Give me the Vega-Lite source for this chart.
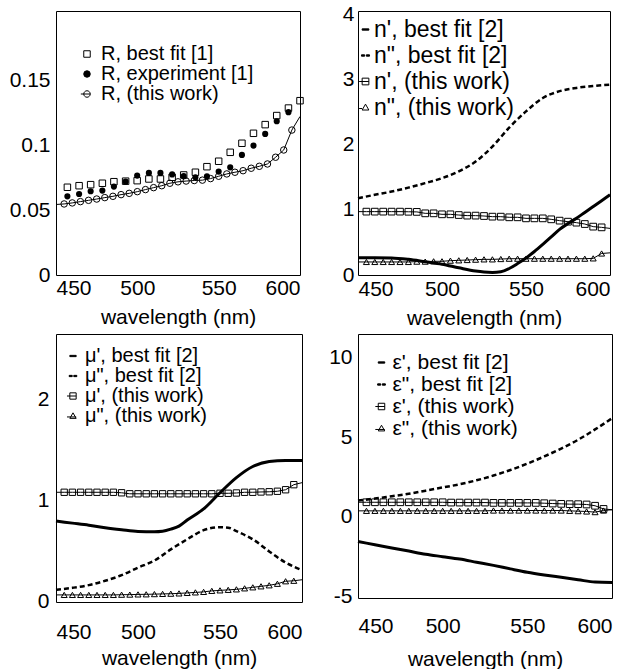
{
  "$schema": "https://vega.github.io/schema/vega-lite/v6.json",
  "padding": {"left": 8, "top": 2, "right": 0, "bottom": 0},
  "background": "white",
  "config": {
    "font": "Liberation Sans",
    "view": {"stroke": "black", "strokeWidth": 1},
    "axis": {"labelFont": "Liberation Sans", "titleFont": "Liberation Sans", "labelFontSize": 21, "titleFontSize": 21, "titleFontWeight": "normal", "labelColor": "black", "titleColor": "black", "grid": false, "ticks": false, "tickSize": 0, "domain": false, "labelExpr": "datum.value + ''"},
    "legend": {"labelFont": "Liberation Sans", "labelColor": "black", "symbolOpacity": 1, "symbolStrokeColor": "black", "symbolStrokeWidth": 1, "labelLimit": 400, "padding": 0}
  },
  "datasets": {
    "a_fit": [
      {"wl": 457, "R": 0.0678}, {"wl": 464.2, "R": 0.069}, {"wl": 471.3, "R": 0.0698}, {"wl": 478.5, "R": 0.0709},
      {"wl": 485.6, "R": 0.0721}, {"wl": 492.8, "R": 0.0725}, {"wl": 499.9, "R": 0.0729}, {"wl": 507.1, "R": 0.0742},
      {"wl": 514.2, "R": 0.0742}, {"wl": 521.4, "R": 0.0755}, {"wl": 528.5, "R": 0.0773}, {"wl": 535.7, "R": 0.0794},
      {"wl": 542.8, "R": 0.0837}, {"wl": 550, "R": 0.0879}, {"wl": 557.1, "R": 0.0948}, {"wl": 564.3, "R": 0.1018},
      {"wl": 571.4, "R": 0.1095}, {"wl": 578.6, "R": 0.1162}, {"wl": 585.7, "R": 0.1232}, {"wl": 592.9, "R": 0.129},
      {"wl": 600, "R": 0.1347}
    ],
    "a_exp": [
      {"wl": 457, "R": 0.0608}, {"wl": 464.2, "R": 0.0626}, {"wl": 471.3, "R": 0.0647}, {"wl": 478.5, "R": 0.0652},
      {"wl": 485.6, "R": 0.0683}, {"wl": 492.8, "R": 0.0721}, {"wl": 499.9, "R": 0.0768}, {"wl": 507.1, "R": 0.0789},
      {"wl": 514.2, "R": 0.0789}, {"wl": 521.4, "R": 0.0777}, {"wl": 528.5, "R": 0.0764}, {"wl": 535.7, "R": 0.0755},
      {"wl": 542.8, "R": 0.0763}, {"wl": 550, "R": 0.0799}, {"wl": 557.1, "R": 0.0832}, {"wl": 564.3, "R": 0.0928},
      {"wl": 571.4, "R": 0.1}, {"wl": 578.6, "R": 0.109}, {"wl": 585.7, "R": 0.1188}, {"wl": 592.9, "R": 0.1258}
    ],
    "a_tw": [
      {"wl": 450, "R": 0.0545}, {"wl": 455, "R": 0.0549}, {"wl": 460, "R": 0.0557}, {"wl": 465, "R": 0.0567},
      {"wl": 470, "R": 0.0577}, {"wl": 475, "R": 0.0587}, {"wl": 480, "R": 0.0598}, {"wl": 485, "R": 0.0608},
      {"wl": 490, "R": 0.0621}, {"wl": 495, "R": 0.0631}, {"wl": 500, "R": 0.0644}, {"wl": 505, "R": 0.066},
      {"wl": 510, "R": 0.0675}, {"wl": 515, "R": 0.069}, {"wl": 520, "R": 0.0709}, {"wl": 525, "R": 0.072},
      {"wl": 530, "R": 0.0726}, {"wl": 535, "R": 0.073}, {"wl": 540, "R": 0.0733}, {"wl": 545, "R": 0.0745},
      {"wl": 550, "R": 0.0763}, {"wl": 555, "R": 0.0781}, {"wl": 560, "R": 0.0794}, {"wl": 565, "R": 0.0806},
      {"wl": 570, "R": 0.0825}, {"wl": 575, "R": 0.084}, {"wl": 580, "R": 0.0858}, {"wl": 585, "R": 0.091},
      {"wl": 590, "R": 0.0966}, {"wl": 595, "R": 0.112}, {"wl": 600, "R": 0.1225}
    ],
    "a_leg": [{"s": "R, best fit [1]"}, {"s": "R, experiment [1]"}, {"s": "R, (this work)"}],
    "b_fit1": [
      {"wl": 450, "v": 0.265}, {"wl": 460, "v": 0.265}, {"wl": 470, "v": 0.262}, {"wl": 480, "v": 0.24},
      {"wl": 490, "v": 0.203}, {"wl": 500, "v": 0.165}, {"wl": 510, "v": 0.11}, {"wl": 520, "v": 0.06},
      {"wl": 525, "v": 0.045}, {"wl": 530, "v": 0.04}, {"wl": 535, "v": 0.05}, {"wl": 540, "v": 0.1},
      {"wl": 545, "v": 0.175}, {"wl": 550, "v": 0.26}, {"wl": 555, "v": 0.36}, {"wl": 560, "v": 0.47},
      {"wl": 565, "v": 0.585}, {"wl": 570, "v": 0.7}, {"wl": 575, "v": 0.79}, {"wl": 580, "v": 0.87},
      {"wl": 585, "v": 0.96}, {"wl": 590, "v": 1.05}, {"wl": 595, "v": 1.14}, {"wl": 600, "v": 1.23}
    ],
    "b_fit2": [
      {"wl": 450, "v": 1.177}, {"wl": 460, "v": 1.23}, {"wl": 470, "v": 1.28}, {"wl": 480, "v": 1.34},
      {"wl": 490, "v": 1.41}, {"wl": 500, "v": 1.485}, {"wl": 510, "v": 1.59}, {"wl": 520, "v": 1.74},
      {"wl": 530, "v": 1.97}, {"wl": 540, "v": 2.26}, {"wl": 550, "v": 2.51}, {"wl": 560, "v": 2.715},
      {"wl": 570, "v": 2.82}, {"wl": 580, "v": 2.87}, {"wl": 590, "v": 2.9}, {"wl": 600, "v": 2.92}
    ],
    "b_tw1": [
      {"wl": 450, "v": 0.972}, {"wl": 455, "v": 0.972}, {"wl": 460, "v": 0.972}, {"wl": 465, "v": 0.972},
      {"wl": 470, "v": 0.972}, {"wl": 475, "v": 0.972}, {"wl": 480, "v": 0.97}, {"wl": 485, "v": 0.968},
      {"wl": 490, "v": 0.946}, {"wl": 495, "v": 0.946}, {"wl": 500, "v": 0.931}, {"wl": 505, "v": 0.931},
      {"wl": 510, "v": 0.92}, {"wl": 515, "v": 0.911}, {"wl": 520, "v": 0.911}, {"wl": 525, "v": 0.905},
      {"wl": 530, "v": 0.895}, {"wl": 535, "v": 0.895}, {"wl": 540, "v": 0.885}, {"wl": 545, "v": 0.885},
      {"wl": 550, "v": 0.869}, {"wl": 555, "v": 0.869}, {"wl": 560, "v": 0.869}, {"wl": 565, "v": 0.854},
      {"wl": 570, "v": 0.834}, {"wl": 575, "v": 0.818}, {"wl": 580, "v": 0.803}, {"wl": 585, "v": 0.782},
      {"wl": 590, "v": 0.742}, {"wl": 595, "v": 0.731}, {"wl": 600, "v": 0.715}
    ],
    "b_tw2": [
      {"wl": 450, "v": 0.2}, {"wl": 455, "v": 0.2}, {"wl": 460, "v": 0.2}, {"wl": 465, "v": 0.2},
      {"wl": 470, "v": 0.2}, {"wl": 475, "v": 0.2}, {"wl": 480, "v": 0.2}, {"wl": 485, "v": 0.205},
      {"wl": 490, "v": 0.205}, {"wl": 495, "v": 0.21}, {"wl": 500, "v": 0.21}, {"wl": 505, "v": 0.22},
      {"wl": 510, "v": 0.225}, {"wl": 515, "v": 0.23}, {"wl": 520, "v": 0.235}, {"wl": 525, "v": 0.24},
      {"wl": 530, "v": 0.24}, {"wl": 535, "v": 0.245}, {"wl": 540, "v": 0.25}, {"wl": 545, "v": 0.25},
      {"wl": 550, "v": 0.25}, {"wl": 555, "v": 0.25}, {"wl": 560, "v": 0.25}, {"wl": 565, "v": 0.25},
      {"wl": 570, "v": 0.25}, {"wl": 575, "v": 0.25}, {"wl": 580, "v": 0.25}, {"wl": 585, "v": 0.25},
      {"wl": 590, "v": 0.255}, {"wl": 595, "v": 0.33}, {"wl": 600, "v": 0.34}
    ],
    "b_leg": [{"s": "n', best fit [2]"}, {"s": "n\", best fit [2]"}, {"s": "n', (this work)"}, {"s": "n\", (this work)"}],
    "c_fit1": [
      {"wl": 450, "v": 0.73}, {"wl": 460, "v": 0.71}, {"wl": 470, "v": 0.69}, {"wl": 480, "v": 0.665},
      {"wl": 490, "v": 0.645}, {"wl": 500, "v": 0.628}, {"wl": 510, "v": 0.625}, {"wl": 515, "v": 0.63},
      {"wl": 520, "v": 0.65}, {"wl": 525, "v": 0.68}, {"wl": 530, "v": 0.74}, {"wl": 540, "v": 0.85},
      {"wl": 550, "v": 1.01}, {"wl": 560, "v": 1.16}, {"wl": 570, "v": 1.27}, {"wl": 580, "v": 1.32},
      {"wl": 590, "v": 1.33}, {"wl": 600, "v": 1.33}
    ],
    "c_fit2": [
      {"wl": 450, "v": 0.05}, {"wl": 460, "v": 0.07}, {"wl": 470, "v": 0.097}, {"wl": 480, "v": 0.14},
      {"wl": 490, "v": 0.195}, {"wl": 500, "v": 0.27}, {"wl": 510, "v": 0.34}, {"wl": 520, "v": 0.45},
      {"wl": 530, "v": 0.55}, {"wl": 540, "v": 0.64}, {"wl": 550, "v": 0.67}, {"wl": 555, "v": 0.665},
      {"wl": 560, "v": 0.63}, {"wl": 570, "v": 0.55}, {"wl": 580, "v": 0.43}, {"wl": 590, "v": 0.32},
      {"wl": 600, "v": 0.245}
    ],
    "c_tw1": [
      {"wl": 450, "v": 1.015}, {"wl": 455, "v": 1.015}, {"wl": 460, "v": 1.015}, {"wl": 465, "v": 1.015},
      {"wl": 470, "v": 1.015}, {"wl": 475, "v": 1.015}, {"wl": 480, "v": 1.015}, {"wl": 485, "v": 1.015},
      {"wl": 490, "v": 1.01}, {"wl": 495, "v": 1.0}, {"wl": 500, "v": 1.0}, {"wl": 505, "v": 1.0},
      {"wl": 510, "v": 1.0}, {"wl": 515, "v": 1.0}, {"wl": 520, "v": 1.0}, {"wl": 525, "v": 1.0},
      {"wl": 530, "v": 1.0}, {"wl": 535, "v": 1.0}, {"wl": 540, "v": 1.0}, {"wl": 545, "v": 1.0},
      {"wl": 550, "v": 1.005}, {"wl": 555, "v": 1.005}, {"wl": 560, "v": 1.008}, {"wl": 565, "v": 1.015},
      {"wl": 570, "v": 1.015}, {"wl": 575, "v": 1.018}, {"wl": 580, "v": 1.02}, {"wl": 585, "v": 1.025},
      {"wl": 590, "v": 1.04}, {"wl": 595, "v": 1.09}, {"wl": 600, "v": 1.11}
    ],
    "c_tw2": [
      {"wl": 450, "v": 0.0}, {"wl": 455, "v": 0.0}, {"wl": 460, "v": 0.0}, {"wl": 465, "v": 0.0},
      {"wl": 470, "v": 0.0}, {"wl": 475, "v": 0.0}, {"wl": 480, "v": 0.0}, {"wl": 485, "v": 0.0},
      {"wl": 490, "v": 0.002}, {"wl": 495, "v": 0.003}, {"wl": 500, "v": 0.005}, {"wl": 505, "v": 0.006},
      {"wl": 510, "v": 0.008}, {"wl": 515, "v": 0.01}, {"wl": 520, "v": 0.012}, {"wl": 525, "v": 0.015},
      {"wl": 530, "v": 0.02}, {"wl": 535, "v": 0.025}, {"wl": 540, "v": 0.03}, {"wl": 545, "v": 0.04},
      {"wl": 550, "v": 0.045}, {"wl": 555, "v": 0.05}, {"wl": 560, "v": 0.055}, {"wl": 565, "v": 0.065},
      {"wl": 570, "v": 0.075}, {"wl": 575, "v": 0.085}, {"wl": 580, "v": 0.095}, {"wl": 585, "v": 0.11},
      {"wl": 590, "v": 0.135}, {"wl": 595, "v": 0.14}, {"wl": 600, "v": 0.15}
    ],
    "c_leg": [{"s": "μ', best fit [2]"}, {"s": "μ\", best fit [2]"}, {"s": "μ', (this work)"}, {"s": "μ\", (this work)"}],
    "d_fit1": [
      {"wl": 450, "v": -1.55}, {"wl": 460, "v": -1.75}, {"wl": 470, "v": -1.95}, {"wl": 480, "v": -2.15},
      {"wl": 490, "v": -2.35}, {"wl": 500, "v": -2.5}, {"wl": 510, "v": -2.65}, {"wl": 520, "v": -2.85},
      {"wl": 530, "v": -3.05}, {"wl": 540, "v": -3.27}, {"wl": 550, "v": -3.48}, {"wl": 560, "v": -3.65},
      {"wl": 570, "v": -3.8}, {"wl": 580, "v": -3.95}, {"wl": 590, "v": -4.1}, {"wl": 600, "v": -4.12}
    ],
    "d_fit2": [
      {"wl": 450, "v": 1.03}, {"wl": 460, "v": 1.15}, {"wl": 470, "v": 1.3}, {"wl": 480, "v": 1.45},
      {"wl": 490, "v": 1.65}, {"wl": 500, "v": 1.85}, {"wl": 510, "v": 2.05}, {"wl": 520, "v": 2.3},
      {"wl": 530, "v": 2.6}, {"wl": 540, "v": 2.95}, {"wl": 550, "v": 3.35}, {"wl": 560, "v": 3.8},
      {"wl": 570, "v": 4.3}, {"wl": 580, "v": 4.85}, {"wl": 590, "v": 5.5}, {"wl": 600, "v": 6.2}
    ],
    "d_tw1": [
      {"wl": 450, "v": 0.92}, {"wl": 455, "v": 0.92}, {"wl": 460, "v": 0.92}, {"wl": 465, "v": 0.92},
      {"wl": 470, "v": 0.92}, {"wl": 475, "v": 0.92}, {"wl": 480, "v": 0.92}, {"wl": 485, "v": 0.92},
      {"wl": 490, "v": 0.92}, {"wl": 495, "v": 0.92}, {"wl": 500, "v": 0.92}, {"wl": 505, "v": 0.9},
      {"wl": 510, "v": 0.9}, {"wl": 515, "v": 0.9}, {"wl": 520, "v": 0.9}, {"wl": 525, "v": 0.9},
      {"wl": 530, "v": 0.88}, {"wl": 535, "v": 0.88}, {"wl": 540, "v": 0.88}, {"wl": 545, "v": 0.88},
      {"wl": 550, "v": 0.88}, {"wl": 555, "v": 0.88}, {"wl": 560, "v": 0.86}, {"wl": 565, "v": 0.84},
      {"wl": 570, "v": 0.82}, {"wl": 575, "v": 0.8}, {"wl": 580, "v": 0.8}, {"wl": 585, "v": 0.78},
      {"wl": 590, "v": 0.7}, {"wl": 595, "v": 0.5}, {"wl": 600, "v": 0.45}
    ],
    "d_tw2": [
      {"wl": 450, "v": 0.38}, {"wl": 455, "v": 0.38}, {"wl": 460, "v": 0.38}, {"wl": 465, "v": 0.38},
      {"wl": 470, "v": 0.38}, {"wl": 475, "v": 0.38}, {"wl": 480, "v": 0.38}, {"wl": 485, "v": 0.38},
      {"wl": 490, "v": 0.38}, {"wl": 495, "v": 0.38}, {"wl": 500, "v": 0.38}, {"wl": 505, "v": 0.38},
      {"wl": 510, "v": 0.38}, {"wl": 515, "v": 0.38}, {"wl": 520, "v": 0.38}, {"wl": 525, "v": 0.38},
      {"wl": 530, "v": 0.4}, {"wl": 535, "v": 0.4}, {"wl": 540, "v": 0.4}, {"wl": 545, "v": 0.4},
      {"wl": 550, "v": 0.4}, {"wl": 555, "v": 0.4}, {"wl": 560, "v": 0.4}, {"wl": 565, "v": 0.4},
      {"wl": 570, "v": 0.4}, {"wl": 575, "v": 0.38}, {"wl": 580, "v": 0.36}, {"wl": 585, "v": 0.34},
      {"wl": 590, "v": 0.3}, {"wl": 595, "v": 0.4}, {"wl": 600, "v": 0.45}
    ],
    "d_leg": [{"s": "ε', best fit [2]"}, {"s": "ε\", best fit [2]"}, {"s": "ε', (this work)"}, {"s": "ε\", (this work)"}]
  },
  "columns": 2,
  "align": "each",
  "bounds": "flush",
  "spacing": {"row": 59, "column": 56},
  "resolve": {"scale": {"shape": "independent", "fill": "independent", "stroke": "independent"}, "legend": {"shape": "independent", "fill": "independent", "stroke": "independent"}},
  "concat": [
    {
      "width": 244, "height": 264,
      "layer": [
        {
          "data": {"name": "a_fit"},
          "mark": {"type": "point", "shape": "square", "filled": false, "color": "black", "strokeWidth": 1, "size": 42, "opacity": 1},
          "encoding": {
            "x": {"field": "wl", "type": "quantitative", "scale": {"domain": [450, 600], "nice": false, "zero": false}, "axis": {"values": [450, 500, 550, 600], "title": "wavelength (nm)", "labelPadding": 2, "titlePadding": 8}},
            "y": {"field": "R", "type": "quantitative", "scale": {"domain": [0, 0.204], "nice": false}, "axis": {"values": [0, 0.05, 0.1, 0.15], "title": null, "labelPadding": 6}}
          }
        },
        {
          "data": {"name": "a_exp"},
          "mark": {"type": "point", "shape": "circle", "filled": true, "color": "black", "size": 38, "opacity": 1},
          "encoding": {"x": {"field": "wl", "type": "quantitative"}, "y": {"field": "R", "type": "quantitative"}}
        },
        {
          "data": {"name": "a_tw"},
          "mark": {"type": "line", "color": "black", "strokeWidth": 1},
          "encoding": {"x": {"field": "wl", "type": "quantitative"}, "y": {"field": "R", "type": "quantitative"}}
        },
        {
          "data": {"name": "a_tw"},
          "transform": [{"filter": "datum.wl > 452 && datum.wl < 598"}],
          "mark": {"type": "point", "shape": "circle", "filled": false, "color": "black", "strokeWidth": 1, "size": 42, "opacity": 1},
          "encoding": {"x": {"field": "wl", "type": "quantitative"}, "y": {"field": "R", "type": "quantitative"}}
        },
        {
          "data": {"name": "a_leg"},
          "mark": {"type": "point", "filled": false, "color": "black", "opacity": 0, "size": 42},
          "encoding": {
            "shape": {"field": "s", "type": "nominal", "scale": {"domain": ["R, best fit [1]", "R, experiment [1]", "R, (this work)"], "range": ["square", "circle", "M1,0A1,1,0,1,1,-1,0A1,1,0,1,1,1,0ZM-1.9,0H1"]}, "legend": {"title": null, "orient": "top-left", "offset": 33, "labelFontSize": 20, "symbolSize": 42, "symbolOffset": -12, "labelOffset": 4, "rowPadding": 0}},
            "fill": {"field": "s", "type": "nominal", "scale": {"domain": ["R, best fit [1]", "R, experiment [1]", "R, (this work)"], "range": ["transparent", "black", "transparent"]}, "legend": {"title": null, "orient": "top-left", "offset": 33, "labelFontSize": 20, "symbolSize": 42, "symbolOffset": -12, "labelOffset": 4, "rowPadding": 0}},
            "stroke": {"field": "s", "type": "nominal", "scale": {"domain": ["R, best fit [1]", "R, experiment [1]", "R, (this work)"], "range": ["black", "black", "black"]}, "legend": {"title": null, "orient": "top-left", "offset": 33, "labelFontSize": 20, "symbolSize": 42, "symbolOffset": -12, "labelOffset": 4, "rowPadding": 0}}
          }
        },
        {
          "mark": {"type": "text", "text": "(a)", "fontSize": 21, "align": "right", "baseline": "middle", "color": "black"},
          "encoding": {"x": {"datum": 594}, "y": {"datum": 0.19}}
        }
      ]
    },
    {
      "width": 252, "height": 264,
      "layer": [
        {
          "data": {"name": "b_fit1"},
          "mark": {"type": "line", "color": "black", "strokeWidth": 3, "interpolate": "monotone"},
          "encoding": {
            "x": {"field": "wl", "type": "quantitative", "scale": {"domain": [450, 600], "nice": false, "zero": false}, "axis": {"values": [450, 500, 550, 600], "title": "wavelength (nm)", "labelPadding": 3, "titlePadding": 8}},
            "y": {"field": "v", "type": "quantitative", "scale": {"domain": [0, 4.05], "nice": false}, "axis": {"values": [0, 1, 2, 3, 4], "title": null, "labelPadding": 4}}
          }
        },
        {
          "data": {"name": "b_fit2"},
          "mark": {"type": "line", "color": "black", "strokeWidth": 2.5, "strokeDash": [5, 3], "interpolate": "monotone"},
          "encoding": {"x": {"field": "wl", "type": "quantitative"}, "y": {"field": "v", "type": "quantitative"}}
        },
        {
          "data": {"name": "b_tw1"},
          "mark": {"type": "line", "color": "black", "strokeWidth": 1},
          "encoding": {"x": {"field": "wl", "type": "quantitative"}, "y": {"field": "v", "type": "quantitative"}}
        },
        {
          "data": {"name": "b_tw1"},
          "transform": [{"filter": "datum.wl > 452 && datum.wl < 598"}],
          "mark": {"type": "point", "shape": "square", "filled": false, "color": "black", "strokeWidth": 1, "size": 45, "opacity": 1},
          "encoding": {"x": {"field": "wl", "type": "quantitative"}, "y": {"field": "v", "type": "quantitative"}}
        },
        {
          "data": {"name": "b_tw2"},
          "mark": {"type": "line", "color": "black", "strokeWidth": 1},
          "encoding": {"x": {"field": "wl", "type": "quantitative"}, "y": {"field": "v", "type": "quantitative"}}
        },
        {
          "data": {"name": "b_tw2"},
          "transform": [{"filter": "datum.wl > 452 && datum.wl < 598"}],
          "mark": {"type": "point", "shape": "triangle-up", "filled": false, "color": "black", "strokeWidth": 1, "size": 36, "opacity": 1},
          "encoding": {"x": {"field": "wl", "type": "quantitative"}, "y": {"field": "v", "type": "quantitative"}}
        },
        {
          "data": {"name": "b_leg"},
          "mark": {"type": "point", "filled": false, "color": "black", "opacity": 0, "size": 45},
          "encoding": {
            "shape": {"field": "s", "type": "nominal", "scale": {"domain": ["n', best fit [2]", "n\", best fit [2]", "n', (this work)", "n\", (this work)"], "range": ["M-1,-0.2H1V0.2H-1Z", "M-1.2,-0.2H-0.25V0.2H-1.2ZM0.25,-0.2H1.2V0.2H0.25Z", "M-1,-1H1V1H-1ZM-1.9,0H1", "M0,-1L1,0.75H-1ZM-1.9,0.3H-1"]}, "legend": {"title": null, "orient": "top-left", "offset": 7, "labelFontSize": 23, "symbolSize": 45, "symbolOffset": -11, "labelOffset": -3, "rowPadding": 2}},
            "fill": {"field": "s", "type": "nominal", "scale": {"domain": ["n', best fit [2]", "n\", best fit [2]", "n', (this work)", "n\", (this work)"], "range": ["black", "black", "transparent", "transparent"]}, "legend": {"title": null, "orient": "top-left", "offset": 7, "labelFontSize": 23, "symbolSize": 45, "symbolOffset": -11, "labelOffset": -3, "rowPadding": 2}},
            "stroke": {"field": "s", "type": "nominal", "scale": {"domain": ["n', best fit [2]", "n\", best fit [2]", "n', (this work)", "n\", (this work)"], "range": ["black", "black", "black", "black"]}, "legend": {"title": null, "orient": "top-left", "offset": 7, "labelFontSize": 23, "symbolSize": 45, "symbolOffset": -11, "labelOffset": -3, "rowPadding": 2}}
          }
        },
        {
          "mark": {"type": "text", "text": "(b)", "fontSize": 21, "align": "right", "baseline": "middle", "color": "black"},
          "encoding": {"x": {"datum": 594}, "y": {"datum": 3.79}}
        }
      ]
    },
    {
      "width": 246, "height": 268,
      "layer": [
        {
          "mark": {"type": "rule", "color": "black", "strokeWidth": 1},
          "encoding": {"y": {"datum": 1}}
        },
        {
          "data": {"name": "c_fit1"},
          "mark": {"type": "line", "color": "black", "strokeWidth": 3, "interpolate": "monotone"},
          "encoding": {
            "x": {"field": "wl", "type": "quantitative", "scale": {"domain": [450, 600], "nice": false, "zero": false}, "axis": {"values": [450, 500, 550, 600], "title": "wavelength (nm)", "labelPadding": 19, "titlePadding": 5}},
            "y": {"field": "v", "type": "quantitative", "scale": {"domain": [-0.07, 2.58], "nice": false}, "axis": {"values": [0, 1, 2], "title": null, "labelPadding": 7, "labelOffset": 7}}
          }
        },
        {
          "data": {"name": "c_fit2"},
          "mark": {"type": "line", "color": "black", "strokeWidth": 2.5, "strokeDash": [5, 3], "interpolate": "monotone"},
          "encoding": {"x": {"field": "wl", "type": "quantitative"}, "y": {"field": "v", "type": "quantitative"}}
        },
        {
          "data": {"name": "c_tw1"},
          "mark": {"type": "line", "color": "black", "strokeWidth": 1},
          "encoding": {"x": {"field": "wl", "type": "quantitative"}, "y": {"field": "v", "type": "quantitative"}}
        },
        {
          "data": {"name": "c_tw1"},
          "transform": [{"filter": "datum.wl > 452 && datum.wl < 598"}],
          "mark": {"type": "point", "shape": "square", "filled": false, "color": "black", "strokeWidth": 1, "size": 40, "opacity": 1},
          "encoding": {"x": {"field": "wl", "type": "quantitative"}, "y": {"field": "v", "type": "quantitative"}}
        },
        {
          "data": {"name": "c_tw2"},
          "mark": {"type": "line", "color": "black", "strokeWidth": 1},
          "encoding": {"x": {"field": "wl", "type": "quantitative"}, "y": {"field": "v", "type": "quantitative"}}
        },
        {
          "data": {"name": "c_tw2"},
          "transform": [{"filter": "datum.wl > 452 && datum.wl < 598"}],
          "mark": {"type": "point", "shape": "triangle-up", "filled": false, "color": "black", "strokeWidth": 1, "size": 36, "opacity": 1},
          "encoding": {"x": {"field": "wl", "type": "quantitative"}, "y": {"field": "v", "type": "quantitative"}}
        },
        {
          "data": {"name": "c_leg"},
          "mark": {"type": "point", "filled": false, "color": "black", "opacity": 0, "size": 40},
          "encoding": {
            "shape": {"field": "s", "type": "nominal", "scale": {"domain": ["μ', best fit [2]", "μ\", best fit [2]", "μ', (this work)", "μ\", (this work)"], "range": ["M-1,-0.2H1V0.2H-1Z", "M-1.2,-0.2H-0.25V0.2H-1.2ZM0.25,-0.2H1.2V0.2H0.25Z", "M-1,-1H1V1H-1ZM-1.9,0H1", "M0,-1L1,0.75H-1ZM-1.9,0.3H1"]}, "legend": {"title": null, "orient": "top-left", "offset": 12, "labelFontSize": 20, "symbolSize": 40, "symbolOffset": -5, "labelOffset": 2, "rowPadding": 0}},
            "fill": {"field": "s", "type": "nominal", "scale": {"domain": ["μ', best fit [2]", "μ\", best fit [2]", "μ', (this work)", "μ\", (this work)"], "range": ["black", "black", "transparent", "transparent"]}, "legend": {"title": null, "orient": "top-left", "offset": 12, "labelFontSize": 20, "symbolSize": 40, "symbolOffset": -5, "labelOffset": 2, "rowPadding": 0}},
            "stroke": {"field": "s", "type": "nominal", "scale": {"domain": ["μ', best fit [2]", "μ\", best fit [2]", "μ', (this work)", "μ\", (this work)"], "range": ["black", "black", "black", "black"]}, "legend": {"title": null, "orient": "top-left", "offset": 12, "labelFontSize": 20, "symbolSize": 40, "symbolOffset": -5, "labelOffset": 2, "rowPadding": 0}}
          }
        },
        {
          "mark": {"type": "text", "text": "(c)", "fontSize": 21, "align": "right", "baseline": "middle", "color": "black"},
          "encoding": {"x": {"datum": 594}, "y": {"datum": 2.44}}
        }
      ]
    },
    {
      "width": 254, "height": 264,
      "layer": [
        {
          "mark": {"type": "rule", "color": "black", "strokeWidth": 1},
          "encoding": {"y": {"datum": 0}}
        },
        {
          "data": {"name": "d_fit1"},
          "mark": {"type": "line", "color": "black", "strokeWidth": 3, "interpolate": "monotone"},
          "encoding": {
            "x": {"field": "wl", "type": "quantitative", "scale": {"domain": [450, 600], "nice": false, "zero": false}, "axis": {"values": [450, 500, 550, 600], "title": "wavelength (nm)", "labelPadding": 17, "titlePadding": 12}},
            "y": {"field": "v", "type": "quantitative", "scale": {"domain": [-5.1, 11.5], "nice": false}, "axis": {"values": [-5, 0, 5, 10], "title": null, "labelPadding": 6}}
          }
        },
        {
          "data": {"name": "d_fit2"},
          "mark": {"type": "line", "color": "black", "strokeWidth": 2.5, "strokeDash": [5, 3], "interpolate": "monotone"},
          "encoding": {"x": {"field": "wl", "type": "quantitative"}, "y": {"field": "v", "type": "quantitative"}}
        },
        {
          "data": {"name": "d_tw1"},
          "mark": {"type": "line", "color": "black", "strokeWidth": 1},
          "encoding": {"x": {"field": "wl", "type": "quantitative"}, "y": {"field": "v", "type": "quantitative"}}
        },
        {
          "data": {"name": "d_tw1"},
          "transform": [{"filter": "datum.wl > 452 && datum.wl < 598"}],
          "mark": {"type": "point", "shape": "square", "filled": false, "color": "black", "strokeWidth": 1, "size": 45, "opacity": 1},
          "encoding": {"x": {"field": "wl", "type": "quantitative"}, "y": {"field": "v", "type": "quantitative"}}
        },
        {
          "data": {"name": "d_tw2"},
          "mark": {"type": "line", "color": "black", "strokeWidth": 1},
          "encoding": {"x": {"field": "wl", "type": "quantitative"}, "y": {"field": "v", "type": "quantitative"}}
        },
        {
          "data": {"name": "d_tw2"},
          "transform": [{"filter": "datum.wl > 452 && datum.wl < 598"}],
          "mark": {"type": "point", "shape": "triangle-up", "filled": false, "color": "black", "strokeWidth": 1, "size": 36, "opacity": 1},
          "encoding": {"x": {"field": "wl", "type": "quantitative"}, "y": {"field": "v", "type": "quantitative"}}
        },
        {
          "data": {"name": "d_leg"},
          "mark": {"type": "point", "filled": false, "color": "black", "opacity": 0, "size": 42},
          "encoding": {
            "shape": {"field": "s", "type": "nominal", "scale": {"domain": ["ε', best fit [2]", "ε\", best fit [2]", "ε', (this work)", "ε\", (this work)"], "range": ["M-1,-0.2H1V0.2H-1Z", "M-1.2,-0.2H-0.25V0.2H-1.2ZM0.25,-0.2H1.2V0.2H0.25Z", "M-1,-1H1V1H-1ZM-1.9,0H1", "M0,-1L1,0.75H-1ZM-1.9,0.3H1"]}, "legend": {"title": null, "orient": "top-left", "offset": 17.5, "labelFontSize": 21, "symbolSize": 42, "symbolOffset": -5, "labelOffset": 0.5, "rowPadding": 0}},
            "fill": {"field": "s", "type": "nominal", "scale": {"domain": ["ε', best fit [2]", "ε\", best fit [2]", "ε', (this work)", "ε\", (this work)"], "range": ["black", "black", "transparent", "transparent"]}, "legend": {"title": null, "orient": "top-left", "offset": 17.5, "labelFontSize": 21, "symbolSize": 42, "symbolOffset": -5, "labelOffset": 0.5, "rowPadding": 0}},
            "stroke": {"field": "s", "type": "nominal", "scale": {"domain": ["ε', best fit [2]", "ε\", best fit [2]", "ε', (this work)", "ε\", (this work)"], "range": ["black", "black", "black", "black"]}, "legend": {"title": null, "orient": "top-left", "offset": 17.5, "labelFontSize": 21, "symbolSize": 42, "symbolOffset": -5, "labelOffset": 0.5, "rowPadding": 0}}
          }
        },
        {
          "mark": {"type": "text", "text": "(d)", "fontSize": 21, "align": "right", "baseline": "middle", "color": "black"},
          "encoding": {"x": {"datum": 598}, "y": {"datum": 10.25}}
        }
      ]
    }
  ]
}
